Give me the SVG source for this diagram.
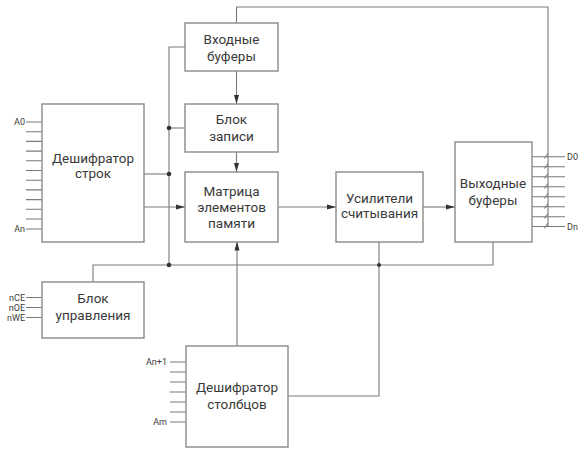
<svg xmlns="http://www.w3.org/2000/svg" width="587" height="451" viewBox="0 0 587 451">
<style>
.box{fill:#fff;stroke:#8a8a8a;stroke-width:1.4}
.ln{fill:none;stroke:#7a7a7a;stroke-width:1.1}
.t{font-family:Roboto,"Liberation Sans",sans-serif;font-size:13.5px;fill:#3a3a3a;text-anchor:middle}
.s{font-family:Roboto,"Liberation Sans",sans-serif;font-size:9px;fill:#3a3a3a}
.r{text-anchor:end}
.dot{fill:#333}
</style>
<defs>
<marker id="ar" markerWidth="10" markerHeight="8" refX="9" refY="4" orient="auto" markerUnits="userSpaceOnUse">
<path d="M0,1.5 L9,4 L0,6.5 Z" fill="#333"/>
</marker>
</defs>
<rect width="587" height="451" fill="#fff"/>
<g id="connectors">
<path class="ln" d="M236.5,23 V7 H548 V226"/>
<path class="ln" d="M185,47 H169 V265"/>
<path class="ln" d="M169,128 H185"/>
<path class="ln" d="M144,174 H169"/>
<path class="ln" d="M144,207 H185" marker-end="url(#ar)"/>
<path class="ln" d="M236.5,71 V104" marker-end="url(#ar)"/>
<path class="ln" d="M236.5,152 V172" marker-end="url(#ar)"/>
<path class="ln" d="M278,207 H336" marker-end="url(#ar)"/>
<path class="ln" d="M423,207 H455" marker-end="url(#ar)"/>
<path class="ln" d="M237,346 V241.5" marker-end="url(#ar)"/>
<path class="ln" d="M93,282 V265 H493 V242"/>
<path class="ln" d="M379,242 V396 H288"/>
<circle class="dot" cx="169" cy="128" r="2.3"/>
<circle class="dot" cx="169" cy="174" r="2.3"/>
<circle class="dot" cx="169" cy="265" r="2.3"/>
<circle class="dot" cx="379" cy="265" r="2"/>
<g class="ln">
<path d="M26,122H42M26,131.7H42M26,141.4H42M26,151.1H42M26,160.8H42M26,170.5H42M26,180.2H42M26,189.9H42M26,199.6H42M26,209.3H42M26,219H42M26,229H42"/>
<path d="M26,297.5H42M26,307.5H42M26,317.5H42"/>
<path d="M170,362H186M170,372H186M170,382H186M170,392H186M170,402H186M170,412H186M170,422H186"/>
<path d="M532,156.7H565M532,166.7H565M532,176.7H565M532,186.7H565M532,196.7H565M532,206.7H565M532,216.7H565M532,226.5H565"/>
<path d="M544.5,158.5L548,153.5M544.5,168.5L548,163.5M544.5,178.5L548,173.5M544.5,188.5L548,183.5M544.5,198.5L548,193.5M544.5,208.5L548,203.5M544.5,218.5L548,213.5M544.5,228.3L548,223.3"/>
</g>
</g>
<g id="row-decoder">
<rect class="box" x="42" y="104" width="102" height="138"/>
<text class="t" x="93" y="163">Дешифратор</text>
<text class="t" x="93" y="178">строк</text>
<text class="s r" x="25" y="125">A0</text>
<text class="s r" x="25" y="232">An</text>
</g>
<g id="input-buffers">
<rect class="box" x="185" y="23" width="93" height="48"/>
<text class="t" x="231.5" y="44">Входные</text>
<text class="t" x="231.5" y="61">буферы</text>
</g>
<g id="write-block">
<rect class="box" x="185" y="104" width="93" height="48"/>
<text class="t" x="231.5" y="124">Блок</text>
<text class="t" x="231.5" y="141">записи</text>
</g>
<g id="matrix">
<rect class="box" x="185" y="172" width="93" height="70"/>
<text class="t" x="231.5" y="196">Матрица</text>
<text class="t" x="231.5" y="212">элементов</text>
<text class="t" x="231.5" y="228">памяти</text>
</g>
<g id="sense-amp">
<rect class="box" x="336" y="172" width="87" height="70"/>
<text class="t" x="379.5" y="203">Усилители</text>
<text class="t" x="379.5" y="218">считывания</text>
</g>
<g id="output-buffers">
<rect class="box" x="455" y="142" width="77" height="100"/>
<text class="t" x="493" y="188">Выходные</text>
<text class="t" x="493" y="205">буферы</text>
<text class="s" x="567" y="160">D0</text>
<text class="s" x="567" y="230">Dn</text>
</g>
<g id="control">
<rect class="box" x="42" y="282" width="102" height="56"/>
<text class="t" x="93" y="303">Блок</text>
<text class="t" x="93" y="320">управления</text>
<text class="s r" x="25" y="300.5">nCE</text>
<text class="s r" x="25" y="310.5">nOE</text>
<text class="s r" x="25" y="320.5">nWE</text>
</g>
<g id="column-decoder">
<rect class="box" x="186" y="346" width="102" height="101"/>
<text class="t" x="237" y="392">Дешифратор</text>
<text class="t" x="237" y="409">столбцов</text>
<text class="s r" x="167" y="365">An+1</text>
<text class="s r" x="167" y="425">Am</text>
</g>
</svg>
